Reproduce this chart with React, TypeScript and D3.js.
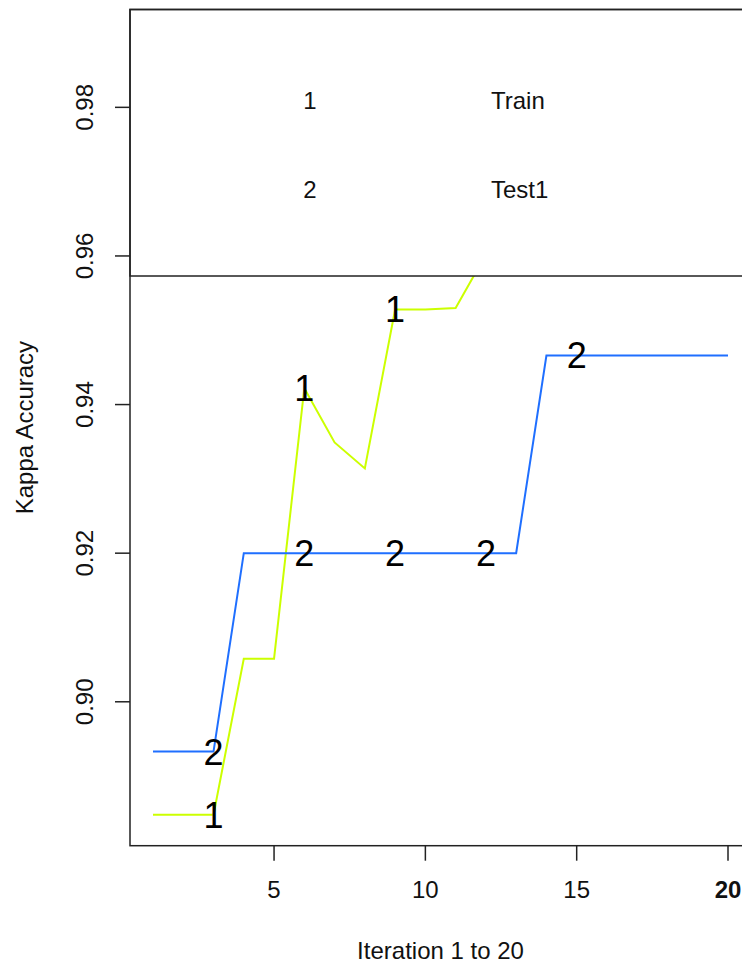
import React from "react";
import * as d3 from "d3";

// iterations 1..20 and kappa per iteration (train above 0.957 is hidden by the legend)
const iterations = [1, 2, 3, 4, 5, 6, 7, 8, 9, 10, 11, 12, 13, 14, 15, 16, 17, 18, 19, 20];
const trainKappa = [
  0.8848, 0.8848, 0.8848, 0.9058, 0.9058, 0.9422, 0.9349, 0.9314, 0.9528, 0.9528,
  0.953, 0.9602, 0.968, 0.975, 0.98, 0.984, 0.986, 0.989, 0.989, 0.989,
];
const testKappa = [
  0.8933, 0.8933, 0.8933, 0.92, 0.92, 0.92, 0.92, 0.92, 0.92, 0.92,
  0.92, 0.92, 0.92, 0.9466, 0.9466, 0.9466, 0.9466, 0.9466, 0.9466, 0.9466,
];
const labelAt = [3, 6, 9, 12, 15];
const xTicks = [5, 10, 15, 20];
const yTicks = [0.9, 0.92, 0.94, 0.96, 0.98];
const legendKeys = ["1", "2"];
const legendNames = ["Train", "Test1"];

const font = "'Liberation Sans', Arial, sans-serif";

const App = () => {
  const width = 742;
  const height = 967;
  const left = 130;
  const right = 751; // plot box runs past the window edge
  const top = 9.5;
  const bottom = 845.7;

  // R style 4% padding on both axes
  const xPad = (d3.max(iterations)! - d3.min(iterations)!) * 0.04;
  const x = d3
    .scaleLinear()
    .domain([d3.min(iterations)! - xPad, d3.max(iterations)! + xPad])
    .range([left, right]);

  const all = trainKappa.concat(testKappa);
  const [lo, hi] = d3.extent(all) as [number, number];
  const yPad = (hi - lo) * 0.04;
  const y = d3.scaleLinear().domain([lo - yPad, hi + yPad]).range([bottom, top]);

  const line = d3
    .line<number>()
    .x((d, i) => x(iterations[i]))
    .y((d) => y(d));

  const series = [
    { key: "1", values: trainKappa, color: "#ccff00" },
    { key: "2", values: testKappa, color: "#1f6fff" },
  ];

  const legendBottom = 276;

  return (
    <svg
      width={width}
      height={height}
      style={{ position: "absolute", left: 0, top: 0, background: "#fff" }}
      fontFamily={font}
    >
      {series.map((s) => (
        <path key={s.key} d={line(s.values) || ""} fill="none" stroke={s.color} strokeWidth={2} />
      ))}
      {series.map((s) =>
        labelAt.map((it) => (
          <text
            key={s.key + it}
            x={x(it)}
            y={y(s.values[iterations.indexOf(it)])}
            dy="0.36em"
            textAnchor="middle"
            fontSize={36}
            fill="#000"
          >
            {s.key}
          </text>
        ))
      )}

      {/* legend */}
      <rect x={left} y={top} width={right - left} height={legendBottom - top} fill="#fff" stroke="#222" strokeWidth={1.5} />
      {legendKeys.map((k, i) => (
        <g key={k}>
          <text x={310} y={100 + i * 89} dy="0.36em" textAnchor="middle" fontSize={24} fill="#111">
            {k}
          </text>
          <text x={491} y={100 + i * 89} dy="0.36em" fontSize={24} fill="#111">
            {legendNames[i]}
          </text>
        </g>
      ))}

      {/* frame */}
      <rect x={left} y={top} width={right - left} height={bottom - top} fill="none" stroke="#222" strokeWidth={1.5} />

      {/* x axis */}
      {xTicks.map((t) => (
        <g key={t}>
          <line x1={x(t)} x2={x(t)} y1={bottom} y2={bottom + 15} stroke="#222" strokeWidth={1.5} />
          <text
            x={x(t)}
            y={898}
            textAnchor="middle"
            fontSize={24}
            fontWeight={t === 20 ? "bold" : "normal"}
            fill="#111"
          >
            {t}
          </text>
        </g>
      ))}
      <text x={(left + right) / 2} y={959} textAnchor="middle" fontSize={24} fill="#111">
        Iteration 1 to 20
      </text>

      {/* y axis */}
      {yTicks.map((t) => (
        <g key={t}>
          <line x1={left - 15} x2={left} y1={y(t)} y2={y(t)} stroke="#222" strokeWidth={1.5} />
          <text
            transform={`translate(93,${y(t)}) rotate(-90)`}
            textAnchor="middle"
            fontSize={24}
            fill="#111"
          >
            {t.toFixed(2)}
          </text>
        </g>
      ))}
      <text
        transform={`translate(33,${(top + bottom) / 2}) rotate(-90)`}
        textAnchor="middle"
        fontSize={24}
        fill="#111"
      >
        Kappa Accuracy
      </text>
    </svg>
  );
};

export default App;
